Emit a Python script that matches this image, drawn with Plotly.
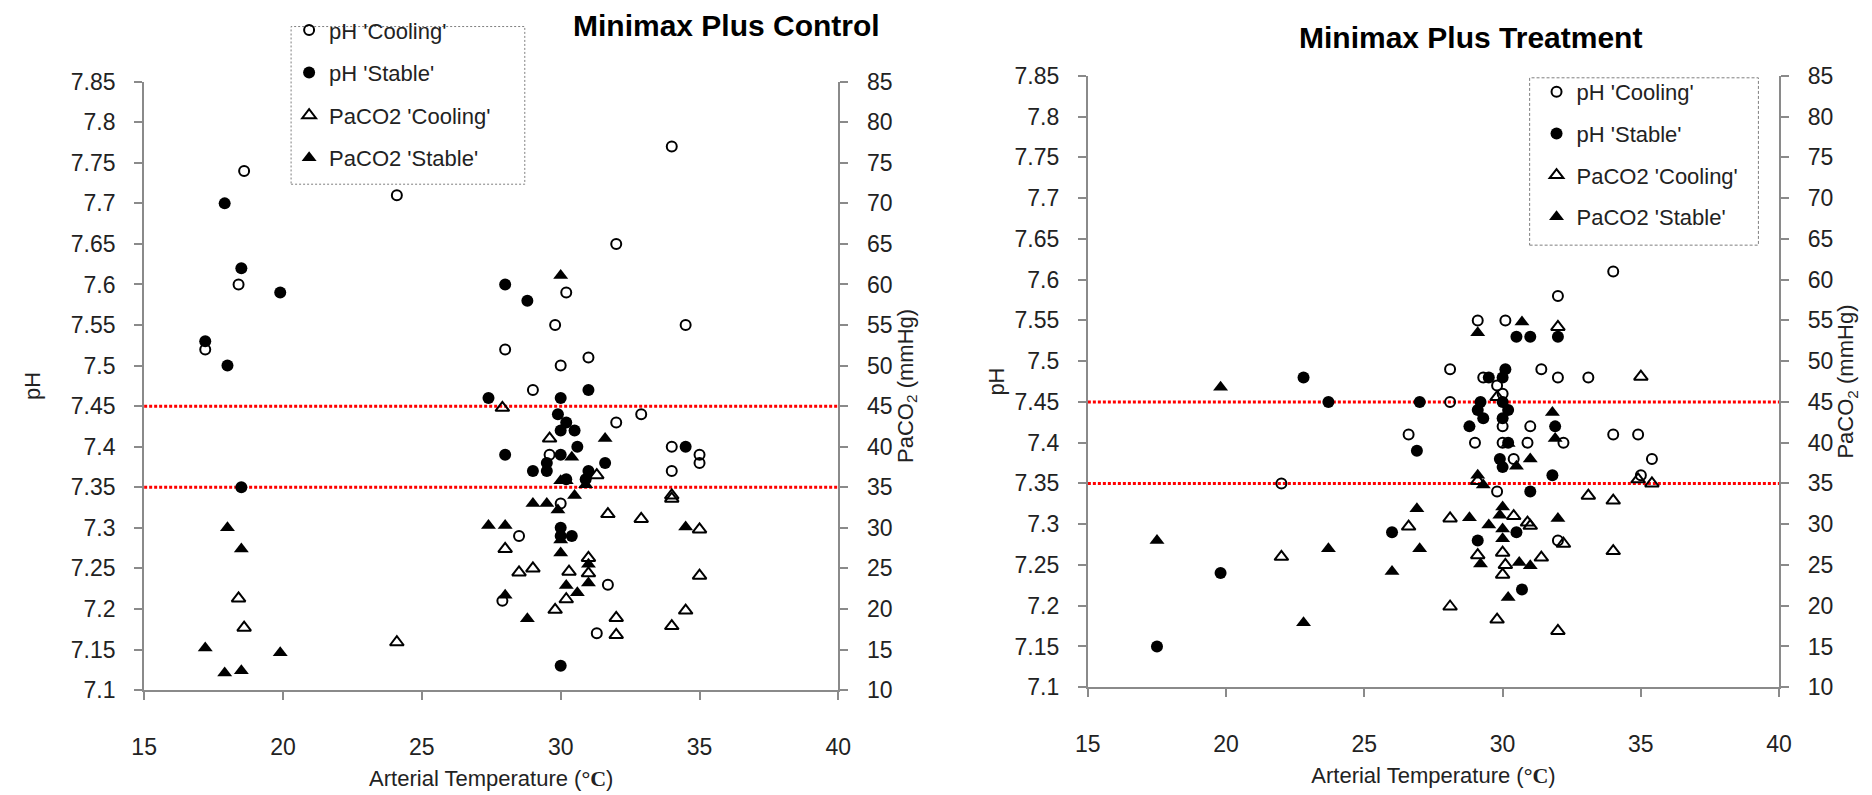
import plotly.graph_objects as go

# ---------------- data: Minimax Plus Control ----------------
c_phc_t = [18.6, 24.1, 34.0, 32.0, 18.4, 30.2, 29.8, 34.5, 17.2, 28.0, 31.0, 30.0, 29.0, 32.0, 32.9,
           29.6, 34.0, 34.0, 35.0, 35.0, 30.0, 28.5, 31.7, 27.9, 31.3]
c_phc_v = [7.74, 7.71, 7.77, 7.65, 7.60, 7.59, 7.55, 7.55, 7.52, 7.52, 7.51, 7.50, 7.47, 7.43, 7.44,
           7.39, 7.40, 7.37, 7.39, 7.38, 7.33, 7.29, 7.23, 7.21, 7.17]

c_phs_t = [17.9, 18.5, 19.9, 28.0, 28.8, 17.2, 18.0, 31.0, 27.4, 30.0, 29.9, 30.2, 30.0, 30.5, 30.6,
           34.5, 28.0, 30.0, 29.5, 31.6, 29.0, 29.5, 31.0, 30.9, 30.2, 18.5, 30.0, 30.0, 30.4, 30.0]
c_phs_v = [7.70, 7.62, 7.59, 7.60, 7.58, 7.53, 7.50, 7.47, 7.46, 7.46, 7.44, 7.43, 7.42, 7.42, 7.40,
           7.40, 7.39, 7.39, 7.38, 7.38, 7.37, 7.37, 7.37, 7.36, 7.36, 7.35, 7.30, 7.29, 7.29, 7.13]

c_co2c_t = [27.9, 29.6, 31.3, 34.0, 34.0, 31.7, 32.9, 35.0, 28.0, 31.0, 29.0, 30.3, 28.5, 31.0, 35.0,
            18.4, 30.2, 29.8, 34.5, 32.0, 34.0, 18.6, 32.0, 24.1]
c_co2c_v = [44.8, 41.0, 36.5, 34.0, 33.6, 31.7, 31.1, 29.8, 27.4, 26.3, 25.0, 24.6, 24.5, 24.4, 24.1,
            21.3, 21.2, 19.9, 19.8, 18.9, 17.9, 17.7, 16.8, 15.9]

c_co2s_t = [30.0, 31.6, 30.4, 30.0, 30.2, 30.9, 30.5, 29.0, 29.5, 29.9, 27.4, 28.0, 18.0, 34.5, 30.0,
            18.5, 30.0, 31.0, 31.0, 30.2, 30.6, 28.0, 28.8, 17.2, 19.9, 17.9, 18.5]
c_co2s_v = [61.1, 41.0, 38.7, 35.8, 35.8, 35.3, 34.0, 33.0, 33.0, 32.2, 30.3, 30.3, 30.0, 30.1, 28.5,
            27.4, 26.9, 25.5, 23.2, 22.9, 22.0, 21.7, 18.8, 15.2, 14.6, 12.1, 12.4]

# ---------------- data: Minimax Plus Treatment ----------------
t_phc_t = [22.0, 26.6, 28.1, 28.1, 29.0, 29.1, 29.3, 29.8, 29.8, 30.0, 30.0, 30.0, 30.1, 30.4, 30.9,
           31.0, 31.4, 32.0, 32.0, 32.0, 32.2, 33.1, 34.0, 34.0, 34.9, 35.0, 35.4]
t_phc_v = [7.35, 7.41, 7.45, 7.49, 7.40, 7.55, 7.48, 7.47, 7.34, 7.46, 7.42, 7.40, 7.55, 7.38, 7.40,
           7.42, 7.49, 7.58, 7.48, 7.28, 7.40, 7.48, 7.61, 7.41, 7.41, 7.36, 7.38]

t_phs_t = [17.5, 19.8, 22.8, 23.7, 26.0, 26.9, 27.0, 28.8, 29.1, 29.1, 29.2, 29.3, 29.5, 30.0, 30.0,
           30.0, 29.9, 30.0, 30.1, 30.2, 30.2, 30.5, 30.5, 30.7, 31.0, 31.0, 31.8, 31.9, 32.0]
t_phs_v = [7.15, 7.24, 7.48, 7.45, 7.29, 7.39, 7.45, 7.42, 7.44, 7.28, 7.45, 7.43, 7.48, 7.48, 7.45,
           7.43, 7.38, 7.37, 7.49, 7.44, 7.40, 7.53, 7.29, 7.22, 7.53, 7.34, 7.36, 7.42, 7.53]

t_co2c_t = [22.0, 26.6, 28.1, 28.1, 29.1, 29.1, 29.8, 29.8, 30.0, 30.0, 30.1, 30.4, 30.9, 31.0, 31.4,
            32.0, 32.0, 32.2, 33.1, 34.0, 34.0, 34.9, 35.0, 35.4]
t_co2c_v = [26.0, 29.7, 30.7, 19.9, 26.2, 35.3, 45.6, 18.3, 26.5, 23.8, 25.0, 31.0, 30.2, 29.8, 25.9,
            54.2, 16.9, 27.6, 33.5, 32.9, 26.7, 35.5, 48.1, 35.0]

t_co2s_t = [17.5, 19.8, 22.8, 23.7, 26.0, 26.9, 27.0, 28.8, 29.1, 29.1, 29.3, 29.2, 29.5, 29.9, 30.0,
            30.0, 30.0, 30.2, 30.2, 30.5, 30.6, 30.7, 31.0, 31.0, 31.8, 31.9, 32.0]
t_co2s_v = [28.0, 46.8, 17.9, 27.0, 24.2, 31.9, 27.0, 30.8, 53.5, 36.0, 34.8, 25.1, 29.9, 31.1, 32.1,
            29.4, 28.2, 39.9, 21.0, 37.1, 25.3, 54.8, 38.0, 24.9, 43.7, 40.5, 30.7]

# ---------------- ticks / labels ----------------
temp_ticks = [15, 20, 25, 30, 35, 40]
ph_ticks = [7.1, 7.15, 7.2, 7.25, 7.3, 7.35, 7.4, 7.45, 7.5, 7.55, 7.6, 7.65, 7.7, 7.75, 7.8, 7.85]
ph_labels = ["7.1", "7.15", "7.2", "7.25", "7.3", "7.35", "7.4", "7.45", "7.5", "7.55", "7.6",
             "7.65", "7.7", "7.75", "7.8", "7.85"]
co2_ticks = [10, 15, 20, 25, 30, 35, 40, 45, 50, 55, 60, 65, 70, 75, 80, 85]
ph_limits = [7.45, 7.35]
series_names = ["pH 'Cooling'", "pH 'Stable'", "PaCO2 'Cooling'", "PaCO2 'Stable'"]
panel_titles = ["Minimax Plus Control", "Minimax Plus Treatment"]

FONT = "Liberation Sans, Arial, sans-serif"
AX = "#8a8a8a"
W, H = 1872, 795

styles = [
    dict(symbol="circle-open", size=10, color="black", line=dict(width=2, color="black")),
    dict(symbol="circle", size=12, color="black"),
    dict(symbol="triangle-up-open", size=12, color="black", line=dict(width=2, color="black")),
    dict(symbol="triangle-up", size=13, color="black"),
]

fig = go.Figure()

panels = [
    dict(xa="x", ya_ph="y", ya_co2="y2", legend="legend",
         data=[(c_phc_t, c_phc_v), (c_phs_t, c_phs_v), (c_co2c_t, c_co2c_v), (c_co2s_t, c_co2s_v)]),
    dict(xa="x2", ya_ph="y3", ya_co2="y4", legend="legend2",
         data=[(t_phc_t, t_phc_v), (t_phs_t, t_phs_v), (t_co2c_t, t_co2c_v), (t_co2s_t, t_co2s_v)]),
]

for pi, p in enumerate(panels):
    for si, (xs, ys) in enumerate(p["data"]):
        fig.add_trace(go.Scatter(
            x=xs, y=ys, mode="markers", name=series_names[si],
            marker=styles[si], xaxis=p["xa"],
            yaxis=p["ya_ph"] if si < 2 else p["ya_co2"],
            legend=p["legend"], legendgroup=f"p{pi}s{si}",
            cliponaxis=False,
        ))
    for v in ph_limits:
        fig.add_shape(type="line", xref=f"{p['xa']} domain", yref=p["ya_ph"],
                      x0=0, x1=1, y0=v, y1=v,
                      line=dict(color="red", width=3, dash="3px,2px"), layer="below")


def px_x(v):
    return v / W


def px_y(v):
    return 1 - v / H


tickfont = dict(family=FONT, size=23, color="#222")
common_x = dict(range=[15, 40], tickvals=temp_ticks, showline=True, linecolor=AX, linewidth=2,
                ticks="outside", ticklen=8, tickcolor=AX, tickwidth=2, showgrid=False,
                zeroline=False, ticklabelstandoff=27, tickfont=tickfont)
xtitle = dict(text="Arterial Temperature (<span style='font-family:Liberation Serif'><b>°C</b></span>)",
              font=dict(family=FONT, size=22, color="#222"), standoff=12)
common_ph = dict(range=[7.1, 7.85], tickvals=ph_ticks, ticktext=ph_labels, showline=True,
                 linecolor=AX, linewidth=2, ticks="outside", ticklen=8, tickcolor=AX, tickwidth=2,
                 showgrid=False, zeroline=False, ticklabelstandoff=14, tickfont=tickfont)
common_co2 = dict(range=[10, 85], tickvals=co2_ticks, showline=True, linecolor=AX, linewidth=2,
                  ticks="outside", ticklen=8, tickcolor=AX, tickwidth=2, showgrid=False,
                  zeroline=False, ticklabelstandoff=14, side="right", tickfont=tickfont)
ytitle_ph_left = dict(text="pH", font=dict(family=FONT, size=22, color="#222"), standoff=24)
ytitle_ph_right = dict(text="pH", font=dict(family=FONT, size=22, color="#222"), standoff=4)
ytitle_co2 = dict(text="PaCO<sub>2</sub> (mmHg)", font=dict(family=FONT, size=22, color="#222"),
                  standoff=1)

fig.update_layout(
    width=W, height=H,
    margin=dict(l=0, r=0, t=0, b=0),
    paper_bgcolor="white", plot_bgcolor="white",
    font=dict(family=FONT, size=22, color="#222"),
    xaxis=dict(domain=[px_x(133), px_x(837)], anchor="y", title=xtitle, **common_x),
    yaxis=dict(domain=[px_y(700), px_y(71)], anchor="x", title=ytitle_ph_left, **common_ph),
    yaxis2=dict(overlaying="y", anchor="x", title=ytitle_co2, **common_co2),
    xaxis2=dict(domain=[px_x(1090), px_x(1791)], anchor="y3", title=xtitle, **common_x),
    yaxis3=dict(domain=[px_y(697), px_y(65)], anchor="x2", title=ytitle_ph_right, **common_ph),
    yaxis4=dict(overlaying="y3", anchor="x2", title=ytitle_co2, **common_co2),
    legend=dict(x=px_x(280), y=px_y(-4), xanchor="left", yanchor="top",
                bgcolor="rgba(0,0,0,0)", borderwidth=0, tracegroupgap=11,
                font=dict(family=FONT, size=22, color="#222")),
    legend2=dict(x=px_x(1545), y=px_y(60), xanchor="left", yanchor="top",
                 bgcolor="rgba(0,0,0,0)", borderwidth=0, tracegroupgap=10,
                 font=dict(family=FONT, size=22, color="#222")),
    showlegend=True,
)

# dotted legend frames
fig.add_shape(type="rect", xref="paper", yref="paper", x0=px_x(282), x1=px_x(519),
              y0=px_y(177), y1=px_y(14), line=dict(color="#7f7f7f", width=1, dash="2px,2px"))
fig.add_shape(type="rect", xref="paper", yref="paper", x0=px_x(1538), x1=px_x(1770),
              y0=px_y(240), y1=px_y(67), line=dict(color="#7f7f7f", width=1, dash="3px,2px"))

# panel titles
fig.add_annotation(text=f"<b>{panel_titles[0]}</b>", xref="paper", yref="paper",
                   x=px_x(724), y=px_y(13), xanchor="center", yanchor="middle", showarrow=False,
                   font=dict(family=FONT, size=30, color="black"))
fig.add_annotation(text=f"<b>{panel_titles[1]}</b>", xref="paper", yref="paper",
                   x=px_x(1478), y=px_y(25), xanchor="center", yanchor="middle", showarrow=False,
                   font=dict(family=FONT, size=30, color="black"))

fig.write_html("out.html")
